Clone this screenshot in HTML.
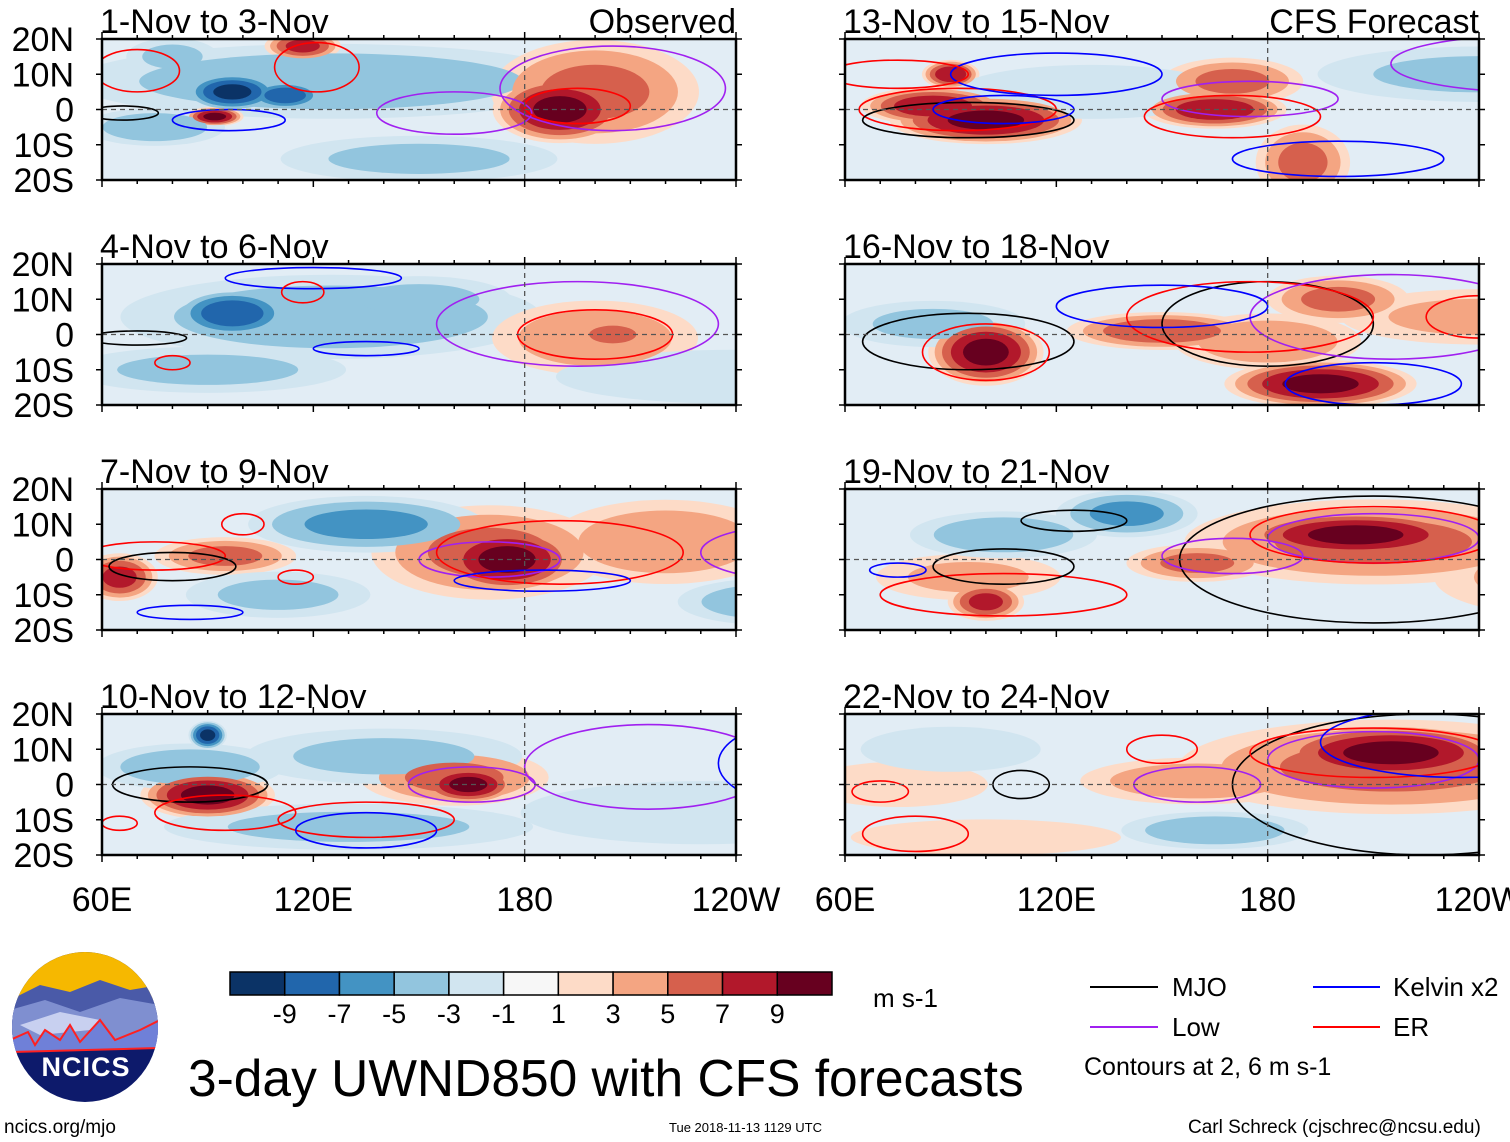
<!DOCTYPE html>
<html><head><meta charset="utf-8"><style>
body{margin:0;background:#fff}
svg{display:block;font-family:"Liberation Sans",sans-serif}
</style></head><body>
<svg id="chart" width="1510" height="1142" viewBox="0 0 1510 1142" xmlns="http://www.w3.org/2000/svg">
<defs>
<clipPath id="logoclip"><ellipse cx="85" cy="1027" rx="73" ry="75"/></clipPath>
</defs>
<g id="panels"></g>
<g id="colorbar"></g>
<text x="873" y="1007" font-size="26">m s-1</text>
<g font-size="26">
<line x1="1090" y1="987" x2="1158" y2="987" stroke="#000" stroke-width="2"/><text x="1172" y="996">MJO</text>
<line x1="1313" y1="987" x2="1380" y2="987" stroke="#0000ff" stroke-width="2"/><text x="1393" y="996">Kelvin x2</text>
<line x1="1090" y1="1027" x2="1158" y2="1027" stroke="#a020f0" stroke-width="2"/><text x="1172" y="1036">Low</text>
<line x1="1313" y1="1027" x2="1380" y2="1027" stroke="#ff0000" stroke-width="2"/><text x="1393" y="1036">ER</text>
<text x="1084" y="1075" font-size="25">Contours at 2, 6 m s-1</text>
</g>
<text x="188" y="1096" font-size="51.5">3-day UWND850 with CFS forecasts</text>
<text x="4" y="1133" font-size="19">ncics.org/mjo</text>
<text x="669" y="1132" font-size="13">Tue 2018-11-13 1129 UTC</text>
<text x="1188" y="1133" font-size="19">Carl Schreck (cjschrec@ncsu.edu)</text>
<g clip-path="url(#logoclip)">
<rect x="10" y="950" width="150" height="160" fill="#0d1a6b"/>
<rect x="10" y="950" width="150" height="50" fill="#f6b800"/>
<path d="M10 1000 L40 985 L70 992 L100 980 L130 990 L160 985 L160 1040 L10 1040Z" fill="#4a5aa8"/>
<path d="M10 1010 L45 1000 L80 1012 L120 998 L160 1005 L160 1045 L10 1045Z" fill="#7f8fd0"/>
<path d="M20 1025 L60 1012 L100 1020 L90 1030 L40 1035Z" fill="#c8d0f0"/>
<path d="M10 1040 L28 1032 L35 1045 L45 1030 L60 1040 L70 1025 L80 1042 L100 1020 L115 1040 L140 1030 L160 1020 L160 1048 L10 1052Z" fill="#6f80d8" stroke="#ff2020" stroke-width="2"/>
<text x="86" y="1076" font-size="27" font-weight="bold" fill="#fff" text-anchor="middle" letter-spacing="1">NCICS</text>
</g>
</svg>
<script>
const panelTitles=["1-Nov to 3-Nov","4-Nov to 6-Nov","7-Nov to 9-Nov","10-Nov to 12-Nov","13-Nov to 15-Nov","16-Nov to 18-Nov","19-Nov to 21-Nov","22-Nov to 24-Nov"];
const latLabels=["20N","10N","0","10S","20S"];
const latTicks=[20,10,0,-10,-20];
const lonLabels=["60E","120E","180","120W"];
const lonTicks=[60,120,180,240];
const cbLevels=[-9,-7,-5,-3,-1,1,3,5,7,9];
const cbColors=["#0b3366","#2166ac","#4393c3","#92c5de","#d1e5f0","#f7f7f7","#fddbc7","#f4a582","#d6604d","#b2182b","#67001f"];
// blobs: [lon, lat, lonRadius, latRadius, peak value m/s]
const blobs0=[[125,8,55,8,-4],[97,5,10,4,-9],[112,4,8,3,-8],[92,-2,6,2,9],[190,0,14,7,9],[200,5,22,11,5],[285,9,10,5,8],[117,18,8,3,7],[150,-14,30,5,-3],[75,-5,15,4,-4],[260,-18,15,4,-3],[268,-10,6,4,5],[80,15,10,4,-3]];
const blobs1=[[97,6,12,5,-8],[125,5,45,9,-4],[200,-1,22,8,4],[205,0,8,3,6],[285,12,12,5,5],[90,-10,30,5,-3],[240,-12,40,6,-2],[150,10,20,5,-3]];
const blobs2=[[175,0,15,7,9],[170,2,25,10,5],[220,5,25,9,4],[95,1,15,4,5],[65,-5,8,5,7],[135,10,25,6,-5],[110,-10,20,5,-3],[250,-12,20,5,-4],[280,12,10,5,4]];
const blobs3=[[90,-3,14,5,9],[164,0,10,4,9],[160,2,20,6,5],[90,14,4,3,-9],[85,5,20,5,-4],[140,8,30,6,-3],[230,-8,40,7,-2],[260,18,10,3,8],[130,-12,40,5,-3]];
const blobs4=[[100,-3,20,5,9],[85,1,15,4,8],[165,0,15,4,8],[190,-15,10,8,5],[170,8,15,5,5],[90,10,6,3,8],[240,10,35,6,-3],[130,5,30,6,-2],[270,-15,20,5,3]];
const blobs5=[[100,-5,12,7,9],[195,-14,20,5,9],[150,1,20,4,6],[200,10,15,5,5],[180,-2,20,6,4],[85,3,20,5,-3],[240,5,30,6,3]];
const blobs6=[[205,7,25,5,9],[210,5,40,9,5],[160,-1,15,4,5],[100,-12,8,4,7],[95,-5,20,5,3],[105,7,20,5,-4],[140,13,15,5,-5],[260,-5,25,8,3]];
const blobs7=[[215,9,25,6,9],[215,5,45,10,5],[160,1,25,5,4],[75,0,20,5,2],[165,-13,20,4,-4],[90,10,20,5,-2],[100,-15,30,4,2]];
// contours: [type, lon, lat, lonRadius, latRadius]  k=MJO b=Kelvin p=Low r=ER
const cont0=[['p',160,-1,22,6],['p',205,6,32,12],['r',121,12,12,7],['r',195,1,15,5],['r',70,11,12,6],['b',96,-3,16,3],['k',66,-1,10,2],['k',273,-14,15,3],['b',275,-20,20,2],['r',275,-5,25,6]];
const cont1=[['r',200,0,22,7],['p',195,3,40,12],['p',265,13,25,8],['k',70,-1,14,2],['r',80,-8,5,2],['b',135,-4,15,2],['b',120,16,25,3],['r',117,12,6,3],['b',290,-20,25,2]];
const cont2=[['p',170,0,20,5],['r',190,2,35,9],['r',75,1,20,4],['k',80,-2,18,4],['b',85,-15,15,2],['b',185,-6,25,3],['p',260,2,30,8],['r',100,10,6,3],['r',115,-5,5,2]];
const cont3=[['k',85,0,22,5],['r',95,-8,20,5],['p',165,0,18,5],['p',215,5,35,12],['b',260,6,25,12],['r',135,-10,25,5],['b',135,-13,20,5],['r',65,-11,5,2],['r',270,-12,15,4]];
const cont4=[['r',92,0,28,6],['k',95,-3,30,5],['b',105,0,20,4],['p',175,3,25,5],['r',170,-2,25,6],['p',255,13,40,8],['b',120,10,30,6],['r',75,10,20,4],['b',200,-14,30,5],['r',280,-15,30,5]];
const cont5=[['k',95,-2,30,8],['r',100,-5,18,8],['k',180,3,30,12],['r',175,5,35,10],['p',215,5,40,12],['b',150,8,30,6],['b',210,-14,25,6],['r',240,5,15,6]];
const cont6=[['k',210,0,55,18],['p',210,6,30,7],['r',210,7,35,8],['r',105,-10,35,6],['k',105,-2,20,5],['p',170,1,20,5],['b',75,-3,8,2],['k',125,11,15,3]];
const cont7=[['k',225,0,55,20],['p',210,7,30,8],['r',210,9,35,7],['b',235,12,40,10],['r',70,-2,8,3],['r',80,-14,15,5],['r',150,10,10,4],['p',160,0,18,5],['k',110,0,8,4]];

const allBlobs=[blobs0,blobs1,blobs2,blobs3,blobs4,blobs5,blobs6,blobs7];
const allCont=[cont0,cont1,cont2,cont3,cont4,cont5,cont6,cont7];
const NS="http://www.w3.org/2000/svg";
const lineColor={k:"#000",b:"#0000ff",p:"#a020f0",r:"#ff0000"};
function mk(t,a,p){const e=document.createElementNS(NS,t);for(const k in a)e.setAttribute(k,a[k]);p.appendChild(e);return e;}
const panelsG=document.getElementById('panels');
const tops=[39,264,489,714];
const lefts=[102,845];
const W=634,H=141;
function colorFor(t,sign){const idx=sign>0?5+Math.ceil(t/2):5-Math.ceil(t/2);return cbColors[idx];}
for(let i=0;i<8;i++){
  const col=i<4?0:1,row=i%4;
  const x0=lefts[col],y0=tops[row];
  const xs=lon=>x0+(lon-60)/180*W;
  const ys=lat=>y0+(20-lat)/40*H;
  const g=mk('g',{},panelsG);
  
  
  const cp=mk('clipPath',{id:'pc'+i},g);mk('rect',{x:x0,y:y0,width:W,height:H},cp);
  const inner=mk('g',{'clip-path':'url(#pc'+i+')'},g);
  mk('rect',{x:x0,y:y0,width:W,height:H,fill:'#e2edf5'},inner);
  const b=allBlobs[i];
  for(const t of [1,3,5,7,9]){
    for(const bl of b){
      const a=Math.abs(bl[4]);if(t>a+0.5)continue;
      const s=1.4*Math.sqrt((a+1.5-t)/(a+1));
      const e=mk('ellipse',{cx:xs(bl[0]),cy:ys(bl[1]),rx:bl[2]/180*W*s,ry:bl[3]/40*H*s,fill:colorFor(t,Math.sign(bl[4]))},inner);
      
      
    }
  }
  for(const c of allCont[i]){
    const e=mk('ellipse',{cx:xs(c[1]),cy:ys(c[2]),rx:c[3]/180*W,ry:c[4]/40*H,fill:'none',stroke:lineColor[c[0]],'stroke-width':1.6},inner);
    
    
  }
  mk('line',{x1:x0,y1:ys(0),x2:x0+W,y2:ys(0),stroke:'#555','stroke-dasharray':'5,4','stroke-width':1.3},g);
  mk('line',{x1:xs(180),y1:y0,x2:xs(180),y2:y0+H,stroke:'#555','stroke-dasharray':'5,4','stroke-width':1.3},g);
  mk('rect',{x:x0,y:y0,width:W,height:H,fill:'none',stroke:'#000','stroke-width':2.5},g);
  for(let lon=60;lon<=240;lon+=10){
    const L=(lon%60==0)?7:4;
    mk('line',{x1:xs(lon),y1:y0+H,x2:xs(lon),y2:y0+H+L,stroke:'#000','stroke-width':1.5},g);
    mk('line',{x1:xs(lon),y1:y0,x2:xs(lon),y2:y0-L,stroke:'#000','stroke-width':1.5},g);
  }
  latTicks.forEach((lat,j)=>{
    mk('line',{x1:x0-6,y1:ys(lat),x2:x0,y2:ys(lat),stroke:'#000','stroke-width':1.5},g);
    mk('line',{x1:x0+W,y1:ys(lat),x2:x0+W+6,y2:ys(lat),stroke:'#000','stroke-width':1.5},g);
    if(col==0){const t=mk('text',{x:74,y:ys(lat)+12,'font-size':34,'text-anchor':'end'},g);t.textContent=latLabels[j];
      }
  });
  const tt=mk('text',{x:x0-2,y:y0-6,'font-size':34},g);tt.textContent=panelTitles[i];
  
  if(i==0||i==4){const r=mk('text',{x:x0+W,y:y0-6,'font-size':34,'text-anchor':'end'},g);r.textContent=i==0?"Observed":"CFS Forecast";
    }
  if(row==3){lonTicks.forEach((lon,j)=>{const t=mk('text',{x:xs(lon),y:911,'font-size':34,'text-anchor':'middle'},g);t.textContent=lonLabels[j];
    });}
}
const cb=document.getElementById('colorbar');
const cbx=230,cbw=602/11;
cbColors.forEach((c,k)=>{const r=mk('rect',{x:cbx+k*cbw,y:972,width:cbw,height:23,fill:c,stroke:'#000','stroke-width':1.5},cb);
  });
cbLevels.forEach((v,k)=>{const t=mk('text',{x:cbx+(k+1)*cbw,y:1023,'font-size':27,'text-anchor':'middle'},cb);t.textContent=v;
  });
</script>
</body></html>
